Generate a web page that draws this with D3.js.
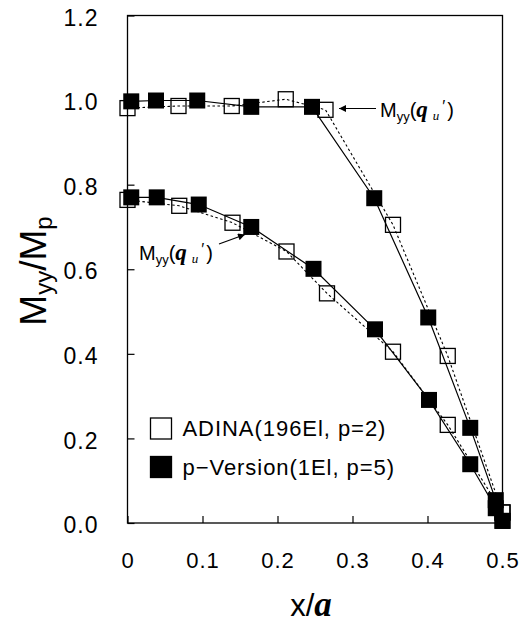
<!DOCTYPE html>
<html>
<head>
<meta charset="utf-8">
<script src="https://cdn.jsdelivr.net/npm/d3@7"></script>
<style>
  html, body { margin: 0; padding: 0; background: #fff; }
  svg { display: block; }
</style>
</head>
<body>
<div id="chart"></div>
<script>
// Bending moment ratio Myy/Mp along x/a, two load cases, two solutions
const xTicks = [0, 0.1, 0.2, 0.3, 0.4, 0.5];
const yTicks = [0, 0.2, 0.4, 0.6, 0.8, 1.0, 1.2];

// ADINA (196 elements, p=2) – open squares, dotted lines
const adinaUpperX = [0.0, 0.068, 0.139, 0.211, 0.264, 0.354, 0.427, 0.5];
const adinaUpperY = [0.981, 0.986, 0.986, 1.002, 0.977, 0.705, 0.395, 0.025];
const adinaLowerX = [0.0, 0.069, 0.140, 0.212, 0.266, 0.354, 0.427, 0.5];
const adinaLowerY = [0.764, 0.750, 0.710, 0.642, 0.543, 0.405, 0.232, 0.025];

// p-Version (1 element, p=5) – filled squares, solid lines
const pverUpperX = [0.005, 0.038, 0.093, 0.165, 0.246, 0.329, 0.401, 0.457, 0.491, 0.5];
const pverUpperY = [0.997, 0.999, 0.999, 0.984, 0.984, 0.768, 0.486, 0.225, 0.054, 0.005];
const pverLowerX = [0.005, 0.039, 0.095, 0.165, 0.248, 0.330, 0.402, 0.457, 0.491, 0.5];
const pverLowerY = [0.770, 0.770, 0.753, 0.700, 0.601, 0.458, 0.291, 0.139, 0.035, 0.005];

const legendLabels = ["ADINA(196El, p=2)", "p\u2212Version(1El, p=5)"];

const W = 531, H = 623;
const svg = d3.select("#chart").append("svg").attr("width", W).attr("height", H);

const x = d3.scaleLinear().domain([0, 0.5]).range([127.5, 502.5]);
const y = d3.scaleLinear().domain([0, 1.2]).range([523, 15.5]);

const sans = "'Liberation Sans', Arial, sans-serif";
const serif = "'Liberation Serif', 'Times New Roman', serif";

// axes with inward ticks
const xAxis = d3.axisBottom(x).tickValues(xTicks).tickSize(-7).tickPadding(29)
  .tickFormat(d => d === 0 ? "0" : d3.format(".1f")(d));
const yAxis = d3.axisLeft(y).tickValues(yTicks).tickSize(-7).tickPadding(29)
  .tickFormat(d3.format(".1f"));

const gx = svg.append("g").attr("transform", `translate(0,${y(0)})`).call(xAxis);
const gy = svg.append("g").attr("transform", `translate(${x(0)},0)`).call(yAxis);
[gx, gy].forEach(g => {
  g.select(".domain").remove();
  g.selectAll(".tick line").attr("stroke", "#000").attr("stroke-width", 1.2);
  g.selectAll(".tick text").attr("fill", "#000").attr("font-family", sans)
    .attr("font-size", 23).style("letter-spacing", "1px");
});
gx.selectAll(".tick text").attr("font-size", 22);
gy.selectAll(".tick text").attr("dy", "0.42em");

// plot frame
svg.append("rect")
  .attr("x", x(0)).attr("y", y(1.2))
  .attr("width", x(0.5) - x(0)).attr("height", y(0) - y(1.2))
  .attr("fill", "none").attr("stroke", "#000").attr("stroke-width", 1.3);

const zip = (xs, ys) => xs.map((v, i) => [v, ys[i]]);
const line = d3.line().x(d => x(d[0])).y(d => y(d[1]));

const adina = [zip(adinaUpperX, adinaUpperY), zip(adinaLowerX, adinaLowerY)];
const pver = [zip(pverUpperX, pverUpperY), zip(pverLowerX, pverLowerY)];

const S = 15; // marker size

// ADINA: dotted lines and open squares
adina.forEach(pts => {
  svg.append("path").attr("d", line(pts)).attr("fill", "none")
    .attr("stroke", "#000").attr("stroke-width", 1.1).attr("stroke-dasharray", "2.5,2.5");
  svg.append("g").selectAll("rect").data(pts).join("rect")
    .attr("x", d => x(d[0]) - S / 2).attr("y", d => y(d[1]) - S / 2)
    .attr("width", S).attr("height", S)
    .attr("fill", "none").attr("stroke", "#000").attr("stroke-width", 1.3);
});

// p-Version: solid lines and filled squares
pver.forEach(pts => {
  svg.append("path").attr("d", line(pts)).attr("fill", "none")
    .attr("stroke", "#000").attr("stroke-width", 1.2);
});
pver.forEach(pts => {
  svg.append("g").selectAll("rect").data(pts).join("rect")
    .attr("x", d => x(d[0]) - (S + 1) / 2).attr("y", d => y(d[1]) - (S + 1) / 2)
    .attr("width", S + 1).attr("height", S + 1).attr("fill", "#000");
});

// annotations with arrows
const defs = svg.append("defs");
defs.append("marker").attr("id", "ah").attr("viewBox", "0 0 10 10")
  .attr("refX", 10).attr("refY", 5).attr("markerWidth", 9).attr("markerHeight", 7)
  .attr("markerUnits", "userSpaceOnUse").attr("orient", "auto")
  .append("path").attr("d", "M0,0 L10,5 L0,10 z").attr("fill", "#000");

function label(tx, ty) {
  const t = svg.append("text").attr("x", tx).attr("y", ty)
    .attr("font-family", sans).attr("font-size", 20).attr("fill", "#000");
  t.append("tspan").text("M");
  t.append("tspan").attr("font-size", 13).attr("dy", 4).text("yy");
  t.append("tspan").attr("dy", -4).text("(");
  t.append("tspan").attr("font-family", serif).attr("font-style", "italic")
    .attr("font-weight", "bold").attr("font-size", 23).text("q");
  t.append("tspan").attr("font-family", serif).attr("font-style", "italic")
    .attr("font-size", 13).attr("dx", 5).attr("dy", 3).text("u");
  t.append("tspan").attr("font-size", 16).attr("dx", 3).attr("dy", -8).text("\u2032");
  t.append("tspan").attr("dy", 5).attr("dx", 2).text(")");
}
svg.append("line").attr("x1", 376).attr("y1", 108.5).attr("x2", 339).attr("y2", 108.5)
  .attr("stroke", "#000").attr("stroke-width", 1.2).attr("marker-end", "url(#ah)");
label(380, 117);
svg.append("line").attr("x1", 219).attr("y1", 244).attr("x2", 245).attr("y2", 234.5)
  .attr("stroke", "#000").attr("stroke-width", 1.2).attr("marker-end", "url(#ah)");
label(139, 260);

// legend
const lg = svg.append("g");
legendLabels.forEach((txt, i) => {
  const cy = 428.5 + i * 38.5;
  lg.append("rect").attr("x", 150.5).attr("y", cy - 10.5).attr("width", 21).attr("height", 21)
    .attr("fill", i === 0 ? "#fff" : "#000").attr("stroke", "#000").attr("stroke-width", 1.3);
  lg.append("text").attr("x", 182.5).attr("y", cy).attr("dy", "0.36em")
    .attr("font-family", sans).attr("font-size", 22).style("letter-spacing", "0.95px")
    .attr("fill", "#000").text(txt);
});

// axis titles
const xt = svg.append("text").attr("x", 311).attr("y", 616).attr("text-anchor", "middle")
  .attr("fill", "#000");
xt.append("tspan").attr("font-family", sans).attr("font-size", 31).text("x/");
xt.append("tspan").attr("font-family", serif).attr("font-style", "italic")
  .attr("font-weight", "bold").attr("font-size", 35).text("a");

const yt = svg.append("text").attr("transform", "translate(46,271) rotate(-90)")
  .attr("text-anchor", "middle").attr("font-family", sans).attr("font-size", 37).attr("fill", "#000");
yt.append("tspan").text("M");
yt.append("tspan").attr("font-size", 24).attr("dy", 6).text("yy");
yt.append("tspan").attr("dy", -6).text("/M");
yt.append("tspan").attr("font-size", 24).attr("dy", 6).text("p");
</script>
</body>
</html>
